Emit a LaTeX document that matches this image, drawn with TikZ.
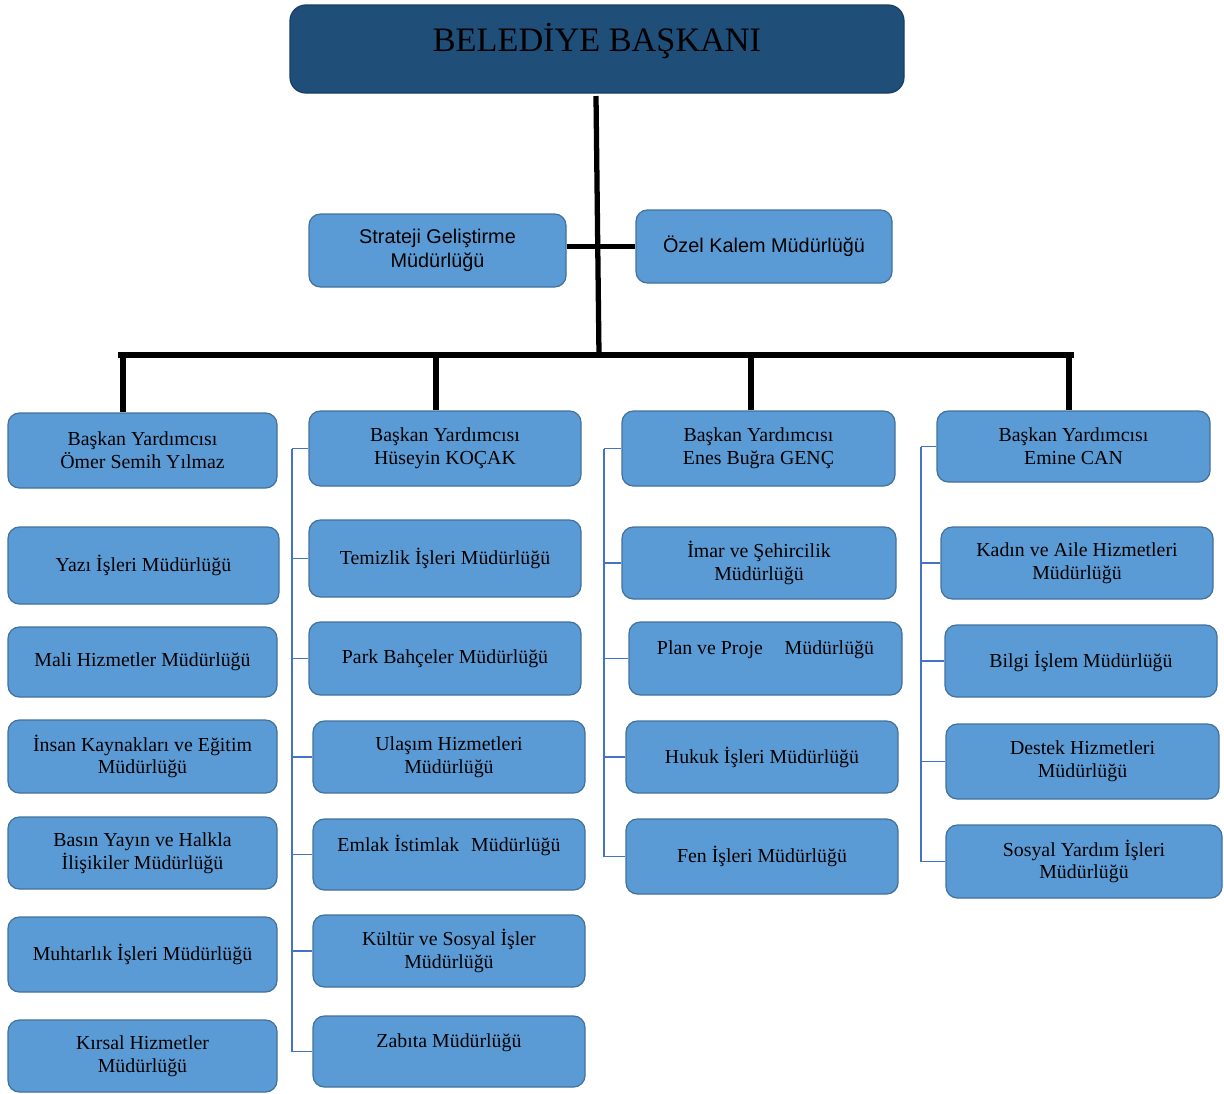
\documentclass[tikz,border=0pt]{standalone}
\usepackage{fontspec}
\setmainfont{Liberation Serif}
\newfontfamily\arialf{Liberation Sans}
\usetikzlibrary{calc}
\definecolor{boxfill}{RGB}{91,155,213}
\definecolor{boxline}{RGB}{65,113,156}
\definecolor{titlefill}{RGB}{31,78,121}
\definecolor{brline}{RGB}{68,114,196}
\tikzset{
  box/.style={draw=boxline, line width=0.7pt, fill=boxfill, rounded corners=6.5pt,
    align=center, inner sep=0pt, font=\fontsize{11.3}{13}\selectfont, text=black},
  sbox/.style={box, font=\arialf\fontsize{11.3}{13.4}\selectfont},
  titlebox/.style={draw=titlefill!80!black, line width=0.7pt, fill=titlefill, rounded corners=9pt,
    inner sep=0pt, font=\fontsize{19.5}{23}\selectfont, text=black},
  topt/.style={text height=10pt, text depth=14.5pt},
  mainline/.style={line width=3pt, black},
  brk/.style={line width=1pt, brline},
}
\newcommand\bx[7][]{\node[box,#1,minimum width={(#5-#3)*0.02cm},minimum height={(#6-#4)*0.02cm}] (#2) at ({(#3+#5)/2},{(#4+#6)/2}) {#7};}
\begin{document}
\begin{tikzpicture}[x=0.02cm,y=-0.02cm]
\path[use as bounding box] (0,0) rectangle (1224,1093);
% title
\bx[titlebox,text height=14pt,text depth=11.2pt]{bb}{290}{5}{904}{93}{BELEDİYE BAŞKANI}
% staff
\bx[sbox]{sg}{309}{214}{566}{287}{Strateji Geliştirme\\Müdürlüğü}
\bx[sbox]{oz}{636}{210}{892}{283}{Özel Kalem Müdürlüğü}
% column 1
\bx{h1}{8}{413}{277}{488}{Başkan Yardımcısı\\Ömer Semih Yılmaz}
\bx{a1}{8}{527}{279}{604}{Yazı İşleri Müdürlüğü}
\bx{a2}{8}{627}{277}{697}{Mali Hizmetler Müdürlüğü}
\bx{a3}{8}{720}{277}{793}{İnsan Kaynakları ve Eğitim\\Müdürlüğü}
\bx{a4}{8}{817}{277}{889}{Basın Yayın ve Halkla\\İlişikiler Müdürlüğü}
\bx{a5}{8}{917}{277}{992}{Muhtarlık İşleri Müdürlüğü}
\bx{a6}{8}{1020}{277}{1092}{Kırsal Hizmetler\\Müdürlüğü}
% column 2
\bx{h2}{309}{411}{581}{486}{Başkan Yardımcısı\\Hüseyin KOÇAK}
\bx{b1}{309}{520}{581}{597}{Temizlik İşleri Müdürlüğü}
\bx{b2}{309}{622}{581}{695}{Park Bahçeler Müdürlüğü}
\bx{b3}{313}{721}{585}{793}{Ulaşım Hizmetleri\\Müdürlüğü}
\bx[text height=10pt,text depth=13pt]{b4}{313}{819}{585}{890}{Emlak İstimlak\hspace{0.35em} Müdürlüğü}
\bx{b5}{313}{915}{585}{987}{Kültür ve Sosyal İşler\\Müdürlüğü}
\bx[topt]{b6}{313}{1016}{585}{1087}{Zabıta Müdürlüğü}
% column 3
\bx{h3}{622}{411}{895}{486}{Başkan Yardımcısı\\Enes Buğra GENÇ}
\bx{c1}{622}{527}{896}{599}{İmar ve Şehircilik\\Müdürlüğü}
\bx[topt]{c2}{629}{622}{902}{695}{Plan ve Proje\hspace{1.1em}Müdürlüğü}
\bx{c3}{626}{721}{898}{793}{Hukuk İşleri Müdürlüğü}
\bx{c4}{626}{819}{898}{894}{Fen İşleri Müdürlüğü}
% column 4
\bx{h4}{937}{411}{1210}{482}{Başkan Yardımcısı\\Emine CAN}
\bx{d1}{941}{527}{1213}{599}{Kadın ve Aile Hizmetleri\\Müdürlüğü}
\bx{d2}{945}{625}{1217}{697}{Bilgi İşlem Müdürlüğü}
\bx{d3}{946}{724}{1219}{799}{Destek Hizmetleri\\Müdürlüğü}
\bx{d4}{946}{825}{1222}{898}{Sosyal Yardım İşleri\\Müdürlüğü}
% main black connectors
\coordinate (top) at (596,96);
\coordinate (hub) at (599,355);
\coordinate (busL) at (121,355);
\coordinate (busR) at (1071,355);
\coordinate (t1) at (123,355);
\coordinate (t2) at (436,355);
\coordinate (t3) at (751,355);
\coordinate (t4) at (1069,355);
\draw[mainline] (top) -- (hub);
\draw[mainline] (sg.east |- oz.west) -- (oz.west);
\draw[mainline, line cap=rect] (busL) -- (busR);
\draw[mainline] (t1) -- (t1 |- h1.north);
\draw[mainline] (t2) -- (t2 |- h2.north);
\draw[mainline] (t3) -- (t3 |- h3.north);
\draw[mainline] (t4) -- (t4 |- h4.north);
% brackets
\coordinate (k2) at (292,0);
\coordinate (k3) at (604,0);
\coordinate (k4) at (921,0);
\draw[brk] (k2 |- h2.west) -- (k2 |- b6.west);
\foreach \n in {h2,b1,b2,b3,b4,b5,b6} \draw[brk] (k2 |- \n.west) -- (\n.west);
\draw[brk] (k3 |- h3.west) -- (k3 |- c4.west);
\foreach \n in {h3,c1,c2,c3,c4} \draw[brk] (k3 |- \n.west) -- (\n.west);
\draw[brk] (k4 |- h4.west) -- (k4 |- d4.west);
\foreach \n in {h4,d1,d2,d3,d4} \draw[brk] (k4 |- \n.west) -- (\n.west);
\end{tikzpicture}
\end{document}
